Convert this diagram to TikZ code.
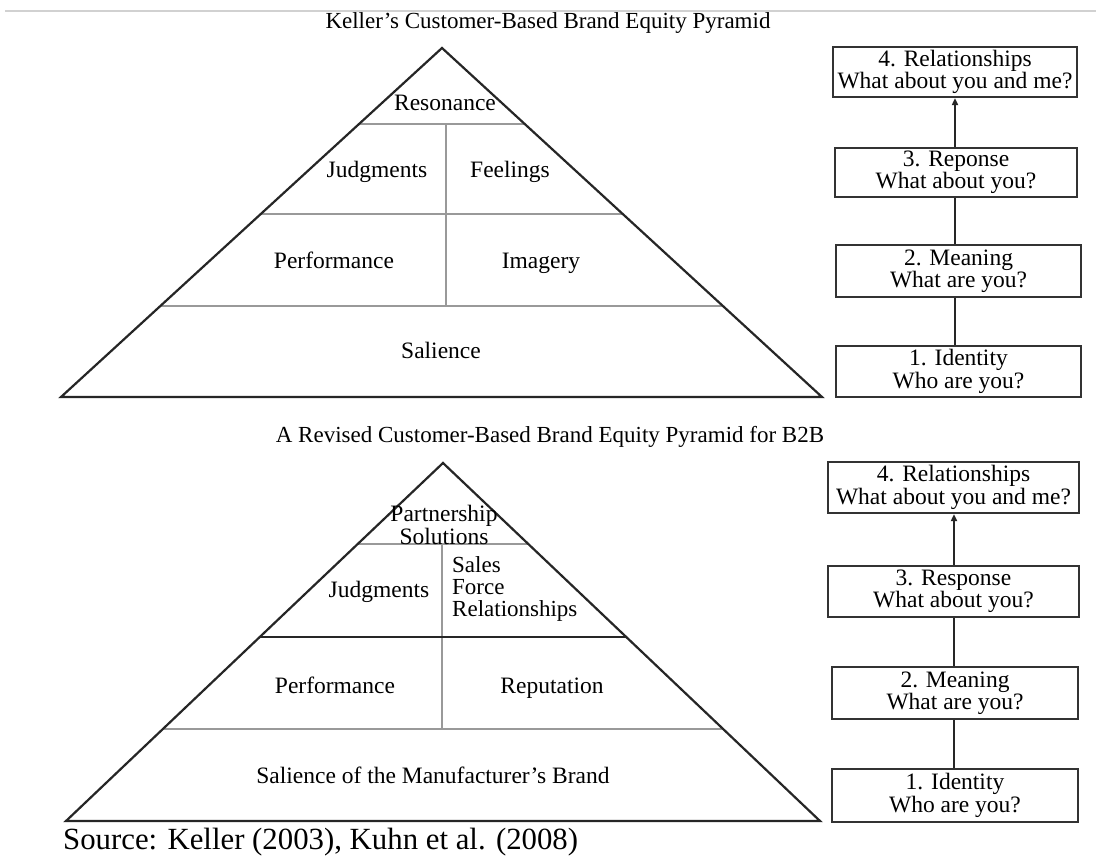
\documentclass[tikz,border=0pt]{standalone}
\usepackage{fontspec}
\setmainfont{Liberation Serif}
\usetikzlibrary{arrows.meta}
\begin{document}
\begin{tikzpicture}[x=1pt,y=-1pt,
  outline/.style={draw=black!85, line width=2.2pt, line join=miter},
  divider/.style={draw=black!40, line width=2pt},
  heavy/.style={draw=black!85, line width=2.6pt},
  label/.style={font=\fontsize{23.5}{20}\selectfont, inner sep=0pt, text=black},
  word/.style={label, text height=19pt, text depth=3pt},
  title/.style={font=\fontsize{23}{24}\selectfont, inner sep=0pt, text=black},
  stage/.style={draw=black!80, line width=2.2pt, inner sep=0pt, align=center,
                font=\fontsize{23.5}{20.5}\selectfont, text=black},
  link/.style={draw=black!85, line width=2pt}
]
% canvas
\path[fill=white, use as bounding box] (0,0) rectangle (1096,856);
\draw[draw=black!18, line width=2pt] (5,11) -- (1096,11);

% ---------- upper pyramid ----------
\node[title] (t1) at (548,23) {Keller’s Customer-Based Brand Equity Pyramid};
\draw[divider] (359,124) -- (525,124);
\draw[divider] (261,214) -- (623,214);
\draw[divider] (160,306) -- (723,306);
\draw[divider] (446,124) -- (446,306);
\draw[outline] (442,48) -- (61,397) -- (822,397) -- cycle;

\node[word] (res) at (445,103) {Resonance};
\node[word] (jud) at (377,170) {Judgments};
\node[word] (fee) at (510,170) {Feelings};
\node[word] (per) at (334,260) {Performance};
\node[word] (ima) at (541,260) {Imagery};
\node[word] (sal) at (441,350) {Salience};

% ---------- upper stages ----------
\coordinate (spineA) at (955,0);
\node[stage, minimum width=244pt, minimum height=50pt] (a4) at (955,72)
  {4. Relationships\\What about you and me?};
\node[stage, minimum width=242pt, minimum height=49pt] (a3) at (956,172.5)
  {3. Reponse\\What about you?};
\node[stage, minimum width=245pt, minimum height=52pt] (a2) at (958.5,271)
  {2. Meaning\\What are you?};
\node[stage, minimum width=245pt, minimum height=51pt] (a1) at (958.5,371.5)
  {1. Identity\\Who are you?};
\draw[link] (a1.north -| spineA) -- (a2.south -| spineA);
\draw[link] (a2.north -| spineA) -- (a3.south -| spineA);
\draw[link, -{Triangle[length=7pt,width=6pt]}] (a3.north -| spineA) -- (a4.south -| spineA);

% ---------- lower pyramid ----------
\node[title] (t2) at (550,437) {A Revised Customer-Based Brand Equity Pyramid for B2B};
\draw[divider] (358,544) -- (528,544);
\draw[divider] (163,729) -- (723,729);
\draw[divider] (442,544) -- (442,729);
\draw[heavy] (260,637) -- (626,637);
\draw[outline] (443,463) -- (66,821) -- (820,821) -- cycle;

\node[label, align=center, font=\fontsize{23.5}{16}\selectfont] (par) at (444,525)
  {Partnership\\Solutions};
\node[word] (jud2) at (379,589) {Judgments};
\node[label, align=left, anchor=west, font=\fontsize{23}{22}\selectfont] (sfr) at (452,589)
  {Sales\\Force\\Relationships};
\node[word] (per2) at (335,685) {Performance};
\node[word] (rep) at (552,685) {Reputation};
\node[word] (sal2) at (433,775) {Salience of the Manufacturer’s Brand};

% ---------- lower stages ----------
\coordinate (spineB) at (954,0);
\node[stage, minimum width=251pt, minimum height=51pt] (b4) at (953.5,487.5)
  {4. Relationships\\What about you and me?};
\node[stage, minimum width=251pt, minimum height=51pt] (b3) at (953.5,591.5)
  {3. Response\\What about you?};
\node[stage, minimum width=246pt, minimum height=52pt] (b2) at (955,693)
  {2. Meaning\\What are you?};
\node[stage, minimum width=246pt, minimum height=53pt] (b1) at (955,795.5)
  {1. Identity\\Who are you?};
\draw[link] (b1.north -| spineB) -- (b2.south -| spineB);
\draw[link] (b2.north -| spineB) -- (b3.south -| spineB);
\draw[link, -{Triangle[length=7pt,width=6pt]}] (b3.north -| spineB) -- (b4.south -| spineB);

% ---------- source line ----------
\node[font=\fontsize{30.8}{32}\selectfont, inner sep=0pt, anchor=west, text=black] (src) at (63,842)
  {Source: Keller (2003), Kuhn et al. (2008)};
\end{tikzpicture}
\end{document}
